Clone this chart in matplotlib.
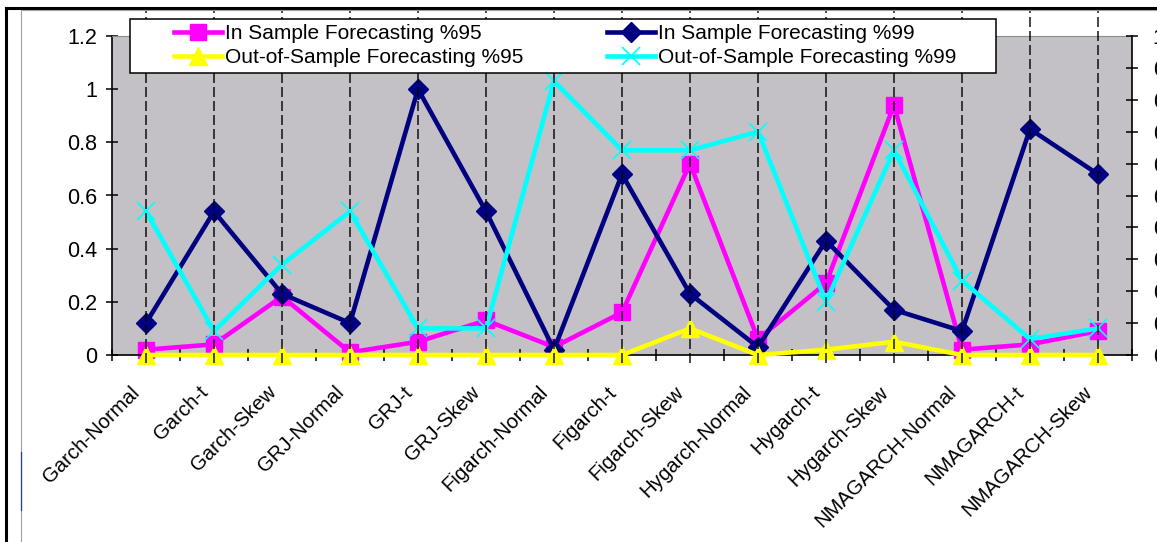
import numpy as np
import matplotlib
matplotlib.use("Agg")
import matplotlib.pyplot as plt
from matplotlib.lines import Line2D
from matplotlib.patches import Rectangle
from matplotlib.transforms import ScaledTranslation

plt.rcParams["font.family"] = ["Liberation Sans", "DejaVu Sans"]

# values
models = ["Garch-Normal", "Garch-t", "Garch-Skew", "GRJ-Normal", "GRJ-t", "GRJ-Skew",
          "Figarch-Normal", "Figarch-t", "Figarch-Skew", "Hygarch-Normal", "Hygarch-t",
          "Hygarch-Skew", "NMAGARCH-Normal", "NMAGARCH-t", "NMAGARCH-Skew"]
in_95 = [0.02, 0.04, 0.22, 0.01, 0.05, 0.13, 0.03, 0.16, 0.72, 0.06, 0.27, 0.94, 0.02, 0.04, 0.09]
in_99 = [0.12, 0.54, 0.23, 0.12, 1.0, 0.54, 0.02, 0.68, 0.23, 0.03, 0.43, 0.17, 0.09, 0.85, 0.68]
out_95 = [0, 0, 0, 0, 0, 0, 0, 0, 0.1, 0, 0.02, 0.05, 0, 0, 0]
out_99 = [0.54, 0.09, 0.34, 0.54, 0.1, 0.1, 1.03, 0.77, 0.77, 0.84, 0.2, 0.77, 0.28, 0.06, 0.1]
left_ticks = [0, 0.2, 0.4, 0.6, 0.8, 1, 1.2]
right_ticks = [0, 0.1, 0.2, 0.3, 0.4, 0.5, 0.6, 0.7, 0.8, 0.9, 1]
labels = ["In Sample Forecasting %95", "In Sample Forecasting %99",
          "Out-of-Sample Forecasting %95", "Out-of-Sample Forecasting %99"]

W, H = 1157, 542


def fx(px):
    return px / W


def fy(py):
    return 1 - py / H


fig = plt.figure(figsize=(W / 100, H / 100), dpi=100)
fig.patch.set_facecolor("white")

ax = fig.add_axes([fx(112), fy(355), fx(1132) - fx(112), fy(36) - fy(355)])
ax.set_facecolor("#C3C1C5")

x = np.arange(len(models))
lw = 3.3
h1, = ax.plot(x, in_95, color="#FF00FF", lw=lw, marker="s", ms=12, mec="#FF00FF",
              zorder=2, clip_on=False)
h2, = ax.plot(x, in_99, color="#000080", lw=lw, marker="D", ms=10, mec="#000080",
              zorder=3, clip_on=False)
h3, = ax.plot(x, out_95, color="#FFFF00", lw=lw, marker="^", ms=13, mec="#FFFF00",
              zorder=4, clip_on=False)
h4, = ax.plot(x, out_99, color="#00FFFF", lw=lw, marker="x", ms=13, mew=1.2,
              mec="#00FFFF", zorder=5, clip_on=False)

ax.set_xlim(-0.5, len(models) - 0.5)
ax.set_ylim(0, 1.2)

# dashed drop lines through every category
ax.vlines(x, -0.03, 1.298, colors="black", linestyles=(0, (6, 2.4)), lw=1.2,
          alpha=0.85, zorder=6, clip_on=False)

for s in ["left", "bottom"]:
    ax.spines[s].set_color("black")
    ax.spines[s].set_linewidth(1.2)
ax.spines["right"].set_visible(False)
ax.spines["top"].set_color("#8c8c8c")
ax.spines["top"].set_linewidth(0.8)

ax.set_yticks(left_ticks)
ax.set_yticklabels([f"{v:g}" for v in left_ticks])
ax.tick_params(axis="y", direction="inout", length=9, width=1.1, pad=6, labelsize=15.5)

ax.set_xticks(np.arange(-0.5, len(models), 1))
ax.set_xticklabels([])
ax.tick_params(axis="x", which="major", direction="inout", length=9, width=1.1)
ax.set_xticks(x, minor=True)
ax.set_xticklabels(models, minor=True, rotation=45, ha="right", va="center",
                   rotation_mode="anchor", fontsize=14.7)
ax.tick_params(axis="x", which="minor", length=0, pad=29)
shift = ScaledTranslation(-0.09, 0.06, fig.dpi_scale_trans)
for t in ax.get_xticklabels(minor=True):
    t.set_transform(t.get_transform() + shift)

ax2 = ax.twinx()
ax2.set_ylim(0, 1)
ax2.set_yticks(right_ticks)
ax2.set_yticklabels([f"{v:g}" for v in right_ticks])
ax2.tick_params(axis="y", direction="inout", length=9, width=1.1, pad=10.5, labelsize=15.5)
for s in ["left", "top", "bottom"]:
    ax2.spines[s].set_visible(False)
ax2.spines["right"].set_color("black")
ax2.spines["right"].set_linewidth(1.2)

# legend box and entries
fig.add_artist(Rectangle((fx(130), fy(73)), fx(996) - fx(130), fy(19) - fy(73),
                         transform=fig.transFigure, facecolor="white", edgecolor="black",
                         lw=1.1, zorder=4))
fig.legend([h1, h3, h2, h4], [labels[0], labels[2], labels[1], labels[3]], ncol=2,
           loc="upper left", bbox_to_anchor=(fx(174), fy(24)), frameon=False,
           borderpad=0, borderaxespad=0, handlelength=2.3, handletextpad=0.15,
           columnspacing=4.0, labelspacing=0.24, fontsize=15, numpoints=1).set_zorder(5)

# outer frame of the pasted chart
frame = [([fx(6), fx(6)], [fy(8), fy(542)], "black", 2.2),
         ([fx(6), fx(1157)], [fy(8), fy(8)], "black", 2.2),
         ([fx(21), fx(21)], [fy(10), fy(542)], "#a0a0a0", 0.8),
         ([fx(21), fx(1157)], [fy(10), fy(10)], "#a0a0a0", 0.8),
         ([fx(21), fx(21)], [fy(452), fy(510)], "#2a3a8a", 0.9)]
for xs, ys, c, w in frame:
    fig.add_artist(Line2D(xs, ys, transform=fig.transFigure, color=c, lw=w, zorder=7))

fig.savefig("out.png", dpi=100)
